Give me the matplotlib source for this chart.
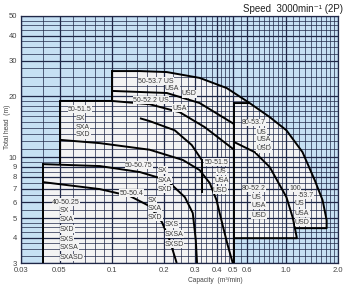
import numpy as np
import matplotlib.pyplot as plt

plt.rcParams['font.family'] = ['Liberation Sans', 'DejaVu Sans']

# white selection area (capacity m3/min, head m)
area_q = [0.04, 0.04, 0.05, 0.05, 0.1, 0.1, 0.145, 0.207, 0.32, 0.458, 0.62, 0.81,
          1.01, 1.25, 1.47, 1.63, 1.72, 1.72, 1.13, 1.16, 0.505, 0.505]
area_h = [3.0, 9.25, 9.25, 19.0, 19.0, 26.7, 26.7, 26.4, 24.7, 22.0, 18.55, 15.8,
          13.6, 10.6, 7.7, 6.14, 4.89, 4.46, 4.46, 3.98, 3.98, 3.0]

# performance curves
c1_q = [0.1, 0.145, 0.207, 0.32, 0.458, 0.62]
c1_h = [26.7, 26.7, 26.4, 24.7, 22.0, 18.55]
c2_q = [0.1, 0.207, 0.32, 0.505]
c2_h = [21.3, 20.8, 18.55, 14.6]
c3_q = [0.05, 0.1, 0.165, 0.246, 0.342, 0.505]
c3_h = [19.0, 19.0, 18.3, 16.7, 14.1, 10.9]
c6_q = [0.145, 0.165, 0.23, 0.288, 0.329]
c6_h = [15.6, 15.1, 13.6, 11.5, 9.7]
c5_q = [0.05, 0.0853, 0.165, 0.256, 0.32, 0.366, 0.4, 0.434, 0.464, 0.496]
c5_h = [12.2, 11.75, 10.9, 9.7, 8.64, 7.45, 6.14, 4.61, 3.67, 3.0]
c8_q = [0.04, 0.0853, 0.145, 0.207, 0.263, 0.292, 0.304, 0.309]
c8_h = [9.25, 9.05, 8.45, 7.71, 6.35, 5.3, 3.89, 3.0]
c9_q = [0.04, 0.0853, 0.127, 0.165, 0.194, 0.215, 0.236]
c9_h = [7.54, 6.96, 6.43, 5.73, 4.78, 3.89, 3.0]
c4_q = [0.505, 0.62, 0.81, 1.01, 1.25, 1.47, 1.63, 1.72, 1.72, 1.13]
c4_h = [18.55, 18.55, 15.8, 13.6, 10.6, 7.7, 6.14, 4.89, 4.46, 4.46]
c7_q = [0.505, 0.664, 0.81, 1.01, 1.10, 1.16, 0.505]
c7_h = [11.9, 10.6, 8.94, 6.35, 5.0, 3.98, 3.98]

# region edges
edges_q = [[0.1, 0.1], [0.04, 0.04], [0.05, 0.05], [0.505, 0.505], [0.329, 0.329]]
edges_h = [[26.7, 19.0], [9.25, 3.0], [19.0, 9.25], [18.55, 3.0], [9.7, 6.72]]

# model labels
lab_text = ['50-53.7 US', 'USA', 'USD', '50-52.2 US', 'USA',
            '50-51.5', 'SX', 'SXA', 'SXD',
            '50-50.75', 'SX', 'SXA', 'SXD',
            '50-50.4', 'SX', 'SXA', 'SXD', 'SXS', 'SXSA', 'SXSD',
            '40-50.25', 'SX', 'SXA', 'SXD', 'SXS', 'SXSA', 'SXASD',
            '50-51.5', 'US', 'USA', 'USD',
            '80-53.7', 'US', 'USA', 'USD',
            '80-52.2', 'US', 'USA', 'USD',
            '100', '-53.7', 'US', 'USA', 'USD']
lab_q = [0.141, 0.202, 0.253, 0.132, 0.224,
         0.056, 0.062, 0.062, 0.062,
         0.119, 0.184, 0.184, 0.184,
         0.111, 0.161, 0.161, 0.161, 0.202, 0.202, 0.202,
         0.0452, 0.0503, 0.0503, 0.0503, 0.0503, 0.0503, 0.0503,
         0.342, 0.40, 0.391, 0.381,
         0.559, 0.681, 0.681, 0.681,
         0.559, 0.638, 0.638, 0.638,
         1.05, 1.17, 1.13, 1.13, 1.13]
lab_h = [23.8, 22.0, 20.6, 19.2, 17.5,
         17.3, 15.6, 14.1, 12.9,
         9.15, 8.64, 7.71, 6.96,
         6.65, 6.14, 5.6, 5.06, 4.67, 4.17, 3.72,
         6.0, 5.48, 4.94, 4.41, 3.94, 3.59, 3.2,
         9.47, 8.5, 7.71, 6.88,
         14.9, 13.3, 12.2, 11.0,
         7.04, 6.35, 5.8, 5.18,
         7.04, 6.5, 5.93, 5.3, 4.78]

x_ticks = [0.03, 0.05, 0.1, 0.2, 0.3, 0.4, 0.5, 0.6, 1.0, 2.0]
x_ticklabels = ['0.03', '0.05', '0.1', '0.2', '0.3', '0.4', '0.5', '0.6', '1.0', '2.0']
y_ticks = [3, 4, 5, 6, 7, 8, 9, 10, 20, 30, 40, 50]

blue = '#c6e0f3'
paper = '#f3f3f3'
ink = '#1f2747'

fig = plt.figure(figsize=(3.45, 2.88), dpi=100)
ax = fig.add_axes([21 / 345, 1 - 263 / 288, 317 / 345, 247 / 288])
ax.set_xscale('log')
ax.set_yscale('log')
ax.set_xlim(0.03, 2.0)
ax.set_ylim(3, 50)
ax.set_facecolor(blue)

ax.fill(area_q, area_h, color=paper, zorder=1, lw=0)

# fine grid like the printed chart
xg = np.concatenate([np.arange(0.03, 0.1, 0.01), np.arange(0.1, 0.2, 0.02),
                     np.arange(0.2, 0.5, 0.025), np.arange(0.5, 1.0, 0.05),
                     np.arange(1.0, 2.0, 0.1)])
yg = np.concatenate([np.arange(3, 5, 0.25), np.arange(5, 10, 0.5),
                     np.arange(10, 20, 1), np.arange(20, 50, 2.5)])
ax.set_xticks(xg, minor=True)
ax.set_yticks(yg, minor=True)
ax.set_xticks(x_ticks)
ax.set_xticklabels(x_ticklabels)
ax.set_yticks(y_ticks)
ax.set_yticklabels([str(v) for v in y_ticks])
ax.xaxis.set_minor_formatter(plt.NullFormatter())
ax.yaxis.set_minor_formatter(plt.NullFormatter())
ax.set_axisbelow(False)
ax.grid(which='major', color=ink, lw=0.9, zorder=2)
ax.grid(which='minor', color=ink, lw=0.5, zorder=2)
ax.tick_params(which='both', length=0, labelsize=5.5, colors='#444444', pad=3)

curves = [(c1_q, c1_h), (c2_q, c2_h), (c3_q, c3_h), (c6_q, c6_h), (c5_q, c5_h),
          (c8_q, c8_h), (c9_q, c9_h), (c4_q, c4_h), (c7_q, c7_h)]
for q, h in curves:
    ax.plot(q, h, color='black', lw=1.4, zorder=3, solid_capstyle='butt')
for q, h in zip(edges_q, edges_h):
    ax.plot(q, h, color='black', lw=1.4, zorder=3)

for t, q, h in zip(lab_text, lab_q, lab_h):
    ax.text(q, h, t, fontsize=5, color='#3a3a3a', ha='left', va='center', zorder=4,
            bbox=dict(facecolor=paper, edgecolor='none', pad=0.2))

for s in ax.spines.values():
    s.set_color(ink)
    s.set_linewidth(0.9)

fig.text(0.995, 0.985, 'Speed  3000min⁻¹ (2P)', ha='right', va='top', fontsize=7, color='#222222')
fig.text(0.022, 0.56, 'Total head  (m)', rotation=90, ha='center', va='center', fontsize=4.8, color='#444444')
fig.text(0.625, 0.025, 'Capacity  (m³/min)', ha='center', va='center', fontsize=4.8, color='#444444')

fig.savefig('out.png', dpi=100)
